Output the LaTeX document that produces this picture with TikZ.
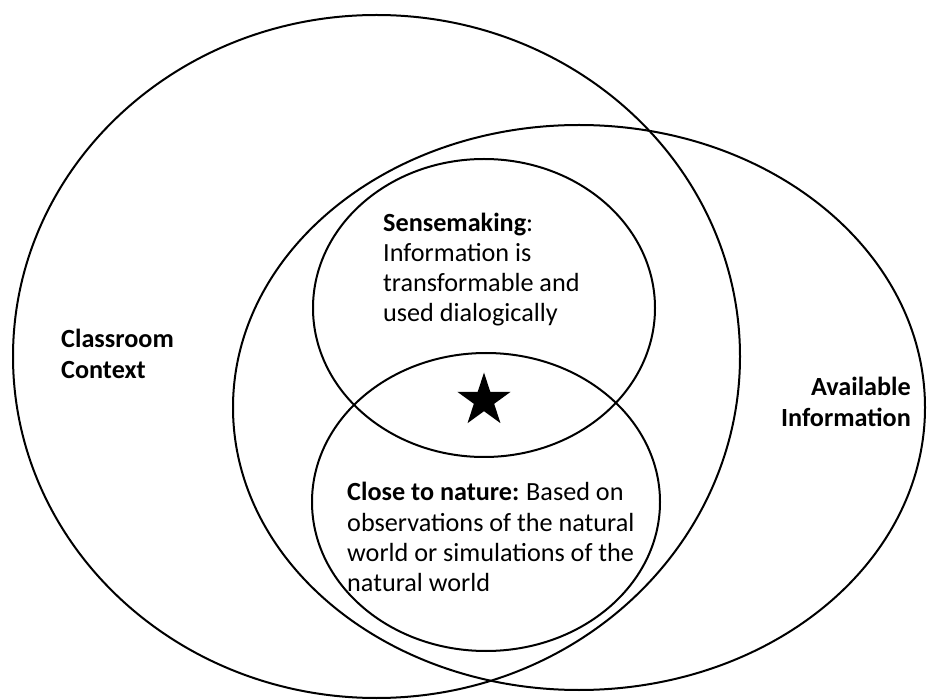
\documentclass[tikz,border=0pt]{standalone}
\usepackage{fontspec}
\setmainfont{Carlito}
\usetikzlibrary{shapes.geometric}
\begin{document}
\begin{tikzpicture}[x=1pt,y=-1pt,
  ring/.style={draw=black, line width=2pt, ellipse, inner sep=0pt},
  lbl/.style={inner sep=0pt, font=\fontsize{26.2}{30}\selectfont}]
\useasboundingbox (0,0) rectangle (927,700);
% big ellipses
\node[ring, minimum width=727pt, minimum height=683pt] (cc) at (376.5,356.5) {};
\node[ring, minimum width=692pt, minimum height=565pt] (ai) at (579,407.5) {};
% inner ellipses
\node[ring, minimum width=342pt, minimum height=298pt] (sm) at (484,308) {};
\node[ring, minimum width=348pt, minimum height=298pt] (cn) at (486,502) {};
% star
\node[star, star points=5, star point ratio=2.618, fill=black, draw=none,
      minimum size=56pt, inner sep=0pt] (st) at (484,400.5) {};
% labels
\node[lbl, anchor=base west] (smt) at (383,232)
  {\vtop{\baselineskip=30pt
   \hbox{\textbf{Sensemaking}:}
   \hbox{Information is}
   \hbox{transformable and}
   \hbox{used dialogically}}};
\node[lbl, anchor=base west] (cnt) at (347,501)
  {\vtop{\baselineskip=30.3pt
   \hbox{\textbf{Close to nature:}\kern-1pt{} Based on}
   \hbox{observations of the natural}
   \hbox{world or simulations of the}
   \hbox{natural world}}};
\node[lbl, anchor=base west, font=\fontsize{26.2}{30}\selectfont\bfseries] (cct) at (61,348)
  {\vtop{\baselineskip=31pt
   \hbox{Classroom}
   \hbox{Context}}};
\node[lbl, anchor=base east, font=\fontsize{26.2}{30}\selectfont\bfseries] (ait) at (911,396)
  {\vtop{\baselineskip=31pt
   \halign{\hfil#\cr Available\cr Information\cr}}};
\end{tikzpicture}
\end{document}
